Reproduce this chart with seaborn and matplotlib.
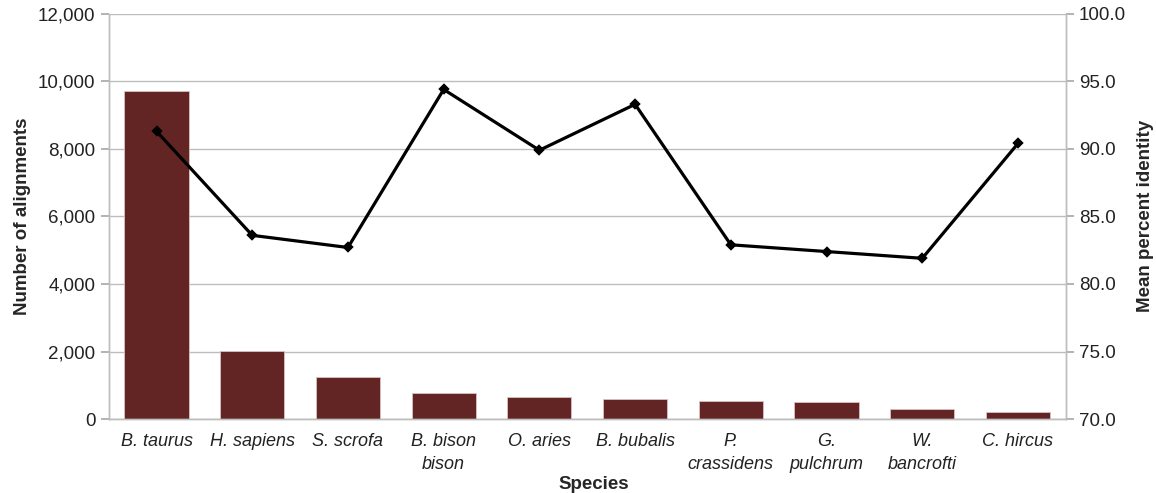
import matplotlib
matplotlib.use("Agg")
import matplotlib.pyplot as plt
import matplotlib.ticker as mticker
import seaborn as sns
import pandas as pd

# values
species = ["B. taurus", "H. sapiens", "S. scrofa", "B. bison\nbison", "O. aries",
           "B. bubalis", "P.\ncrassidens", "G.\npulchrum", "W.\nbancrofti", "C. hircus"]
alignments = [9720, 2010, 1240, 770, 650, 590, 530, 510, 290, 220]
identity = [91.3, 83.6, 82.7, 94.4, 89.9, 93.3, 82.9, 82.4, 81.9, 90.4]

df = pd.DataFrame({"Species": species, "Alignments": alignments, "Identity": identity})

sns.set_theme(style="white")
plt.rcParams["font.family"] = ["Liberation Sans", "DejaVu Sans"]

fig = plt.figure(figsize=(11.56, 4.93), dpi=100)
ax = fig.add_axes([0.094, 0.150, 0.828, 0.822])

sns.barplot(data=df, x="Species", y="Alignments", color="#632523", width=0.67,
            saturation=1, edgecolor="#d9c3c3", linewidth=0.6, ax=ax, zorder=2)
ax.set_ylim(0, 12000)
ax.set_yticks(range(0, 12001, 2000))
ax.yaxis.set_major_formatter(mticker.FuncFormatter(lambda v, p: f"{int(v):,}"))
ax.yaxis.grid(True, color="#bdbdbd", linewidth=1)
ax.set_axisbelow(True)

ax2 = ax.twinx()
sns.pointplot(data=df, x="Species", y="Identity", color="black", markers="D",
              markersize=4, linewidth=2.3, ax=ax2)
ax2.set_ylim(70, 100)
ax2.set_yticks(range(70, 101, 5))
ax2.yaxis.set_major_formatter(mticker.FormatStrFormatter("%.1f"))
ax.set_xlim(-0.5, len(species) - 0.5)

# category boundary ticks on x
ax.set_xticks([i + 0.5 for i in range(-1, len(species))], minor=False)
ax.set_xticklabels([])
ax.set_xticks(range(len(species)), minor=True)
ax.set_xticklabels(species, minor=True, fontstyle="italic", fontsize=13,
                   color="#222222", linespacing=1.45)
ax.tick_params(axis="x", which="minor", length=0, pad=10)
ax.tick_params(axis="x", which="major", length=6, color="#aaaaaa", direction="out")
ax.tick_params(axis="y", length=6, color="#aaaaaa", direction="out", labelsize=13.5,
               labelcolor="#222222", left=True)
ax2.tick_params(axis="y", length=6, color="#aaaaaa", direction="out", labelsize=13.5,
                labelcolor="#222222", right=True)
ax2.set_xlabel("")

for a in (ax, ax2):
    a.spines["top"].set_visible(False)
    for s in ("left", "right", "bottom"):
        a.spines[s].set_color("#bdbdbd")
        a.spines[s].set_linewidth(1)

ax.set_xlabel("Species", fontweight="bold", fontsize=13.5)
ax.set_ylabel("Number of alignments", fontweight="bold", fontsize=13.5)
ax2.set_ylabel("Mean percent identity", fontweight="bold", fontsize=13.5)
ax.xaxis.set_label_coords(0.507, -0.14)
ax.yaxis.set_label_coords(-0.081, 0.5)
ax2.yaxis.set_label_coords(1.074, 0.5)

fig.savefig("out.png", dpi=100)
